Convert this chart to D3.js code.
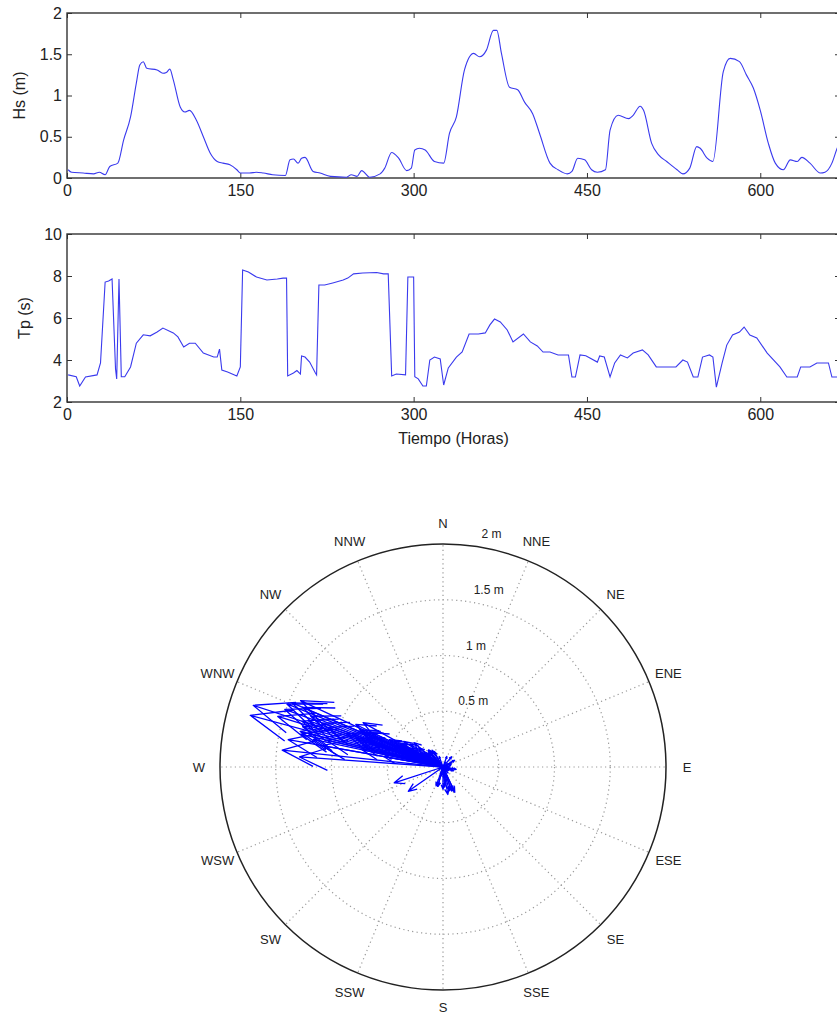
<!DOCTYPE html>
<html>
<head>
<meta charset="utf-8">
<script src="https://cdn.jsdelivr.net/npm/d3@7"></script>
<style>
  body { margin: 0; background: #fff; }
  svg { display: block; }
  text { font-family: "Liberation Sans", Arial, sans-serif; fill: #222; }
</style>
</head>
<body>
<div id="chart"></div>
<script>
// Wave series (hours, metres / seconds)
const hsHours = [1,4,14,23,28,33,37,44,49,55,60,63,66,69,78,83,86,89,92,98,
  102,106,112,118,124,130,135,141,147,150,158,164,170,178,189,193,196,200,203,206,
  213,219,228,242,246,251,255,262,271,275,281,287,294,298,301,305,310,318,326,331,
  337,344,352,357,363,369,372,376,383,390,396,403,409,418,425,433,437,442,448,454,
  459,466,470,477,486,490,496,499,506,512,519,528,533,539,545,548,554,559,568,574,
  582,588,594,600,607,613,620,626,632,636,643,652,656,662,666,669];
const hsValues = [0.10,0.07,0.06,0.05,0.07,0.04,0.14,0.18,0.46,0.74,1.15,1.37,1.41,1.33,1.31,1.27,1.28,1.32,1.19,0.86,
  0.80,0.82,0.70,0.50,0.30,0.20,0.18,0.16,0.10,0.06,0.06,0.07,0.06,0.04,0.03,0.22,0.23,0.18,0.24,0.25,
  0.08,0.06,0.02,0.01,0.04,0.02,0.09,0.01,0.05,0.12,0.31,0.24,0.09,0.12,0.34,0.36,0.34,0.20,0.18,0.54,
  0.74,1.31,1.51,1.47,1.55,1.79,1.79,1.51,1.10,1.07,0.92,0.78,0.54,0.18,0.10,0.05,0.08,0.24,0.22,0.10,
  0.07,0.10,0.58,0.76,0.72,0.76,0.87,0.82,0.42,0.28,0.20,0.10,0.05,0.12,0.38,0.36,0.24,0.20,1.29,1.45,
  1.41,1.25,1.09,0.82,0.42,0.18,0.10,0.22,0.20,0.25,0.18,0.06,0.07,0.18,0.34,0.44];
// direction (degrees clockwise from north) of each Hs sample, for the compass plot
const waveDir = [160,200,110,60,180,250,170,195,252,285,290,293,295,288,286,291,289,284,282,290,
  294,288,296,298,300,310,320,330,20,60,100,140,170,200,240,165,160,175,155,170,
  190,120,90,45,75,300,110,200,150,100,285,290,60,40,300,305,310,320,327,280,
  282,283,290,293,287,285,288,292,280,283,289,293,297,315,340,30,70,300,305,110,
  160,175,284,288,291,294,296,299,303,308,318,100,130,60,235,290,296,302,274,276,
  280,284,289,294,300,195,170,160,180,155,200,120,80,290,296,299];

const tpHours = [1,8,11,16,26,29,33,36,39,42,43,45,47,50,55,60,66,72,78,83,
  92,96,101,106,111,118,127,130,132,134,139,147,150,152,157,164,173,182,187,190,
  191,196,199,202,203,206,210,215,216,218,223,230,239,243,248,256,268,274,278,281,
  285,293,295,300,301,304,308,311,314,318,323,326,330,337,342,348,356,362,366,370,
  375,381,386,395,401,407,412,418,425,434,437,440,444,449,459,461,465,470,474,479,
  485,490,498,503,510,519,527,533,537,542,546,550,556,559,562,567,571,576,582,586,
  591,597,606,617,623,632,635,643,649,659,662,669];
const tpValues = [3.29,3.2,2.76,3.19,3.29,3.86,7.71,7.76,7.86,3.57,3.1,7.86,3.2,3.2,3.67,4.8,5.2,5.15,5.33,5.52,
  5.29,5.1,4.62,4.8,4.8,4.33,4.14,4.14,4.52,3.52,3.43,3.24,3.67,8.29,8.19,7.95,7.81,7.86,7.9,7.9,
  3.24,3.38,3.5,3.33,4.19,4.14,3.9,3.38,3.29,7.57,7.57,7.67,7.81,7.9,8.1,8.14,8.17,8.1,8.1,3.24,
  3.33,3.29,7.95,7.95,3.2,3.1,2.76,2.76,4.0,4.14,4.05,2.81,3.62,4.14,4.38,5.24,5.24,5.29,5.67,5.95,
  5.81,5.43,4.86,5.24,4.86,4.67,4.38,4.38,4.24,4.24,3.19,3.19,4.24,4.2,3.9,4.19,4.14,3.19,3.86,4.24,
  4.1,4.33,4.48,4.24,3.67,3.67,3.67,4.0,3.9,3.19,3.19,4.14,4.24,4.14,2.71,3.86,4.71,5.19,5.33,5.57,
  5.19,5.05,4.33,3.67,3.19,3.19,3.67,3.67,3.86,3.86,3.19,3.19];

const timeTicks = [0,150,300,450,600];
const hsTicks = [0,0.5,1,1.5,2];
const tpTicks = [2,4,6,8,10];
const compassLabels = ["N","NNE","NE","ENE","E","ESE","SE","SSE","S","SSW","SW","WSW","W","WNW","NW","NNW"];
const ringValues = [0.5,1,1.5];
const ringLabels = ["0.5 m","1 m","1.5 m","2 m"];

const width = 837;
const height = 1016;
const lineColor = "#3a3aee";

const svg = d3.select("#chart").append("svg")
  .attr("width", width)
  .attr("height", height);

const xScale = d3.scaleLinear().domain([0, 669]).range([67, 840]);

// one time-series panel with a closed box and inward ticks
function panel(top, bottom, yDomain, yTicks, hours, values, label, labelX, curve) {
  const yScale = d3.scaleLinear().domain(yDomain).range([bottom, top]);
  const g = svg.append("g");

  g.append("g")
    .attr("transform", `translate(0,${bottom})`)
    .call(d3.axisBottom(xScale).tickValues(timeTicks).tickSizeInner(-5).tickSizeOuter(0).tickPadding(7))
    .attr("font-size", "16px");
  g.append("g")
    .attr("transform", `translate(0,${top})`)
    .call(d3.axisTop(xScale).tickValues(timeTicks).tickSizeInner(-5).tickSizeOuter(0).tickFormat(""));
  g.append("g")
    .attr("transform", `translate(${xScale.range()[0]},0)`)
    .call(d3.axisLeft(yScale).tickValues(yTicks).tickFormat(d3.format("")).tickSizeInner(-5).tickSizeOuter(0).tickPadding(5))
    .attr("font-size", "16px");
  g.append("g")
    .attr("transform", `translate(${xScale.range()[1]},0)`)
    .call(d3.axisRight(yScale).tickValues(yTicks).tickSizeInner(-5).tickSizeOuter(0).tickFormat(""));

  g.selectAll(".domain").remove();
  g.selectAll(".tick line").attr("stroke", "#333");
  g.selectAll(".tick text").attr("fill", "#222").attr("font-family", "Liberation Sans, Arial, sans-serif");

  g.append("rect")
    .attr("x", xScale.range()[0])
    .attr("y", top)
    .attr("width", xScale.range()[1] - xScale.range()[0])
    .attr("height", bottom - top)
    .attr("fill", "none")
    .attr("stroke", "#333")
    .attr("stroke-width", 1.4);

  const line = d3.line()
    .x((d, i) => xScale(hours[i]))
    .y(d => yScale(d))
    .curve(curve);
  g.append("path")
    .datum(values)
    .attr("d", line)
    .attr("fill", "none")
    .attr("stroke", lineColor)
    .attr("stroke-width", 1.1);

  g.append("text")
    .attr("transform", `translate(${labelX},${(top + bottom) / 2}) rotate(-90)`)
    .attr("text-anchor", "middle")
    .attr("font-size", "16px")
    .text(label);
  return g;
}

panel(13, 178, [0, 2], hsTicks, hsHours, hsValues, "Hs (m)", 25, d3.curveMonotoneX);
panel(234, 402, [2, 10], tpTicks, tpHours, tpValues, "Tp (s)", 30, d3.curveLinear);

svg.append("text")
  .attr("x", (xScale.range()[0] + xScale.range()[1]) / 2)
  .attr("y", 444)
  .attr("text-anchor", "middle")
  .attr("font-size", "16px")
  .text("Tiempo (Horas)");

/*
  Compass plot
*/
const cx = 443, cy = 767;
const rScale = d3.scaleLinear().domain([0, 2]).range([0, 223]);
const polar = svg.append("g").attr("transform", `translate(${cx},${cy})`);

// bearing (clockwise from north) -> screen coords
const pt = (deg, r) => [r * Math.sin(deg * Math.PI / 180), -r * Math.cos(deg * Math.PI / 180)];

const dotted = { stroke: "#999", "stroke-width": 1.2, "stroke-dasharray": "1.2,3.3" };

polar.selectAll(".ring")
  .data(ringValues)
  .enter()
  .append("circle")
    .attr("class", "ring")
    .attr("r", d => rScale(d))
    .attr("stroke", dotted.stroke)
    .attr("stroke-width", dotted["stroke-width"])
    .attr("stroke-dasharray", dotted["stroke-dasharray"])
    .attr("fill", "none");

polar.selectAll(".spoke")
  .data(compassLabels)
  .enter()
  .append("line")
    .attr("class", "spoke")
    .attr("x1", 0).attr("y1", 0)
    .attr("x2", (d, i) => pt(i * 22.5, rScale(2))[0])
    .attr("y2", (d, i) => pt(i * 22.5, rScale(2))[1])
    .attr("stroke", dotted.stroke)
    .attr("stroke-width", dotted["stroke-width"])
    .attr("stroke-dasharray", dotted["stroke-dasharray"]);

polar.append("circle")
  .attr("r", rScale(2))
  .attr("fill", "none")
  .attr("stroke", "#222")
  .attr("stroke-width", 1.5);

polar.selectAll(".dirlabel")
  .data(compassLabels)
  .enter()
  .append("text")
    .attr("class", "dirlabel")
    .attr("x", (d, i) => pt(i * 22.5, rScale(2) + 21)[0])
    .attr("y", (d, i) => pt(i * 22.5, rScale(2) + (i === 8 ? 17 : 21))[1])
    .attr("text-anchor", "middle")
    .attr("dominant-baseline", "central")
    .attr("font-size", "13px")
    .attr("fill", "#333")
    .text(d => d);

polar.selectAll(".ringlabel")
  .data(ringLabels)
  .enter()
  .append("text")
    .attr("class", "ringlabel")
    .attr("x", (d, i) => 0.139 * (rScale((i + 1) * 0.5) + 10) + 6)
    .attr("y", (d, i) => -(rScale((i + 1) * 0.5) + 10))
    .attr("dominant-baseline", "central")
    .attr("font-size", "12px")
    .attr("fill", "#333")
    .text(d => d);

// arrows: shaft plus head (head length 0.2 L, half width 0.08 L)
const arrowPath = (h, deg) => {
  const L = rScale(h);
  const tip = pt(deg, L);
  const back = pt(deg, 0.8 * L);
  const side = pt(deg + 90, 0.08 * L);
  return `M0,0L${tip[0]},${tip[1]}` +
    `M${back[0] + side[0]},${back[1] + side[1]}L${tip[0]},${tip[1]}` +
    `L${back[0] - side[0]},${back[1] - side[1]}`;
};

polar.selectAll(".arrow")
  .data(hsValues)
  .enter()
  .append("path")
    .attr("class", "arrow")
    .attr("d", (d, i) => arrowPath(d, waveDir[i]))
    .attr("fill", "none")
    .attr("stroke", "#0000ff")
    .attr("stroke-width", 1.3)
    .attr("stroke-linejoin", "round");
</script>
</body>
</html>
